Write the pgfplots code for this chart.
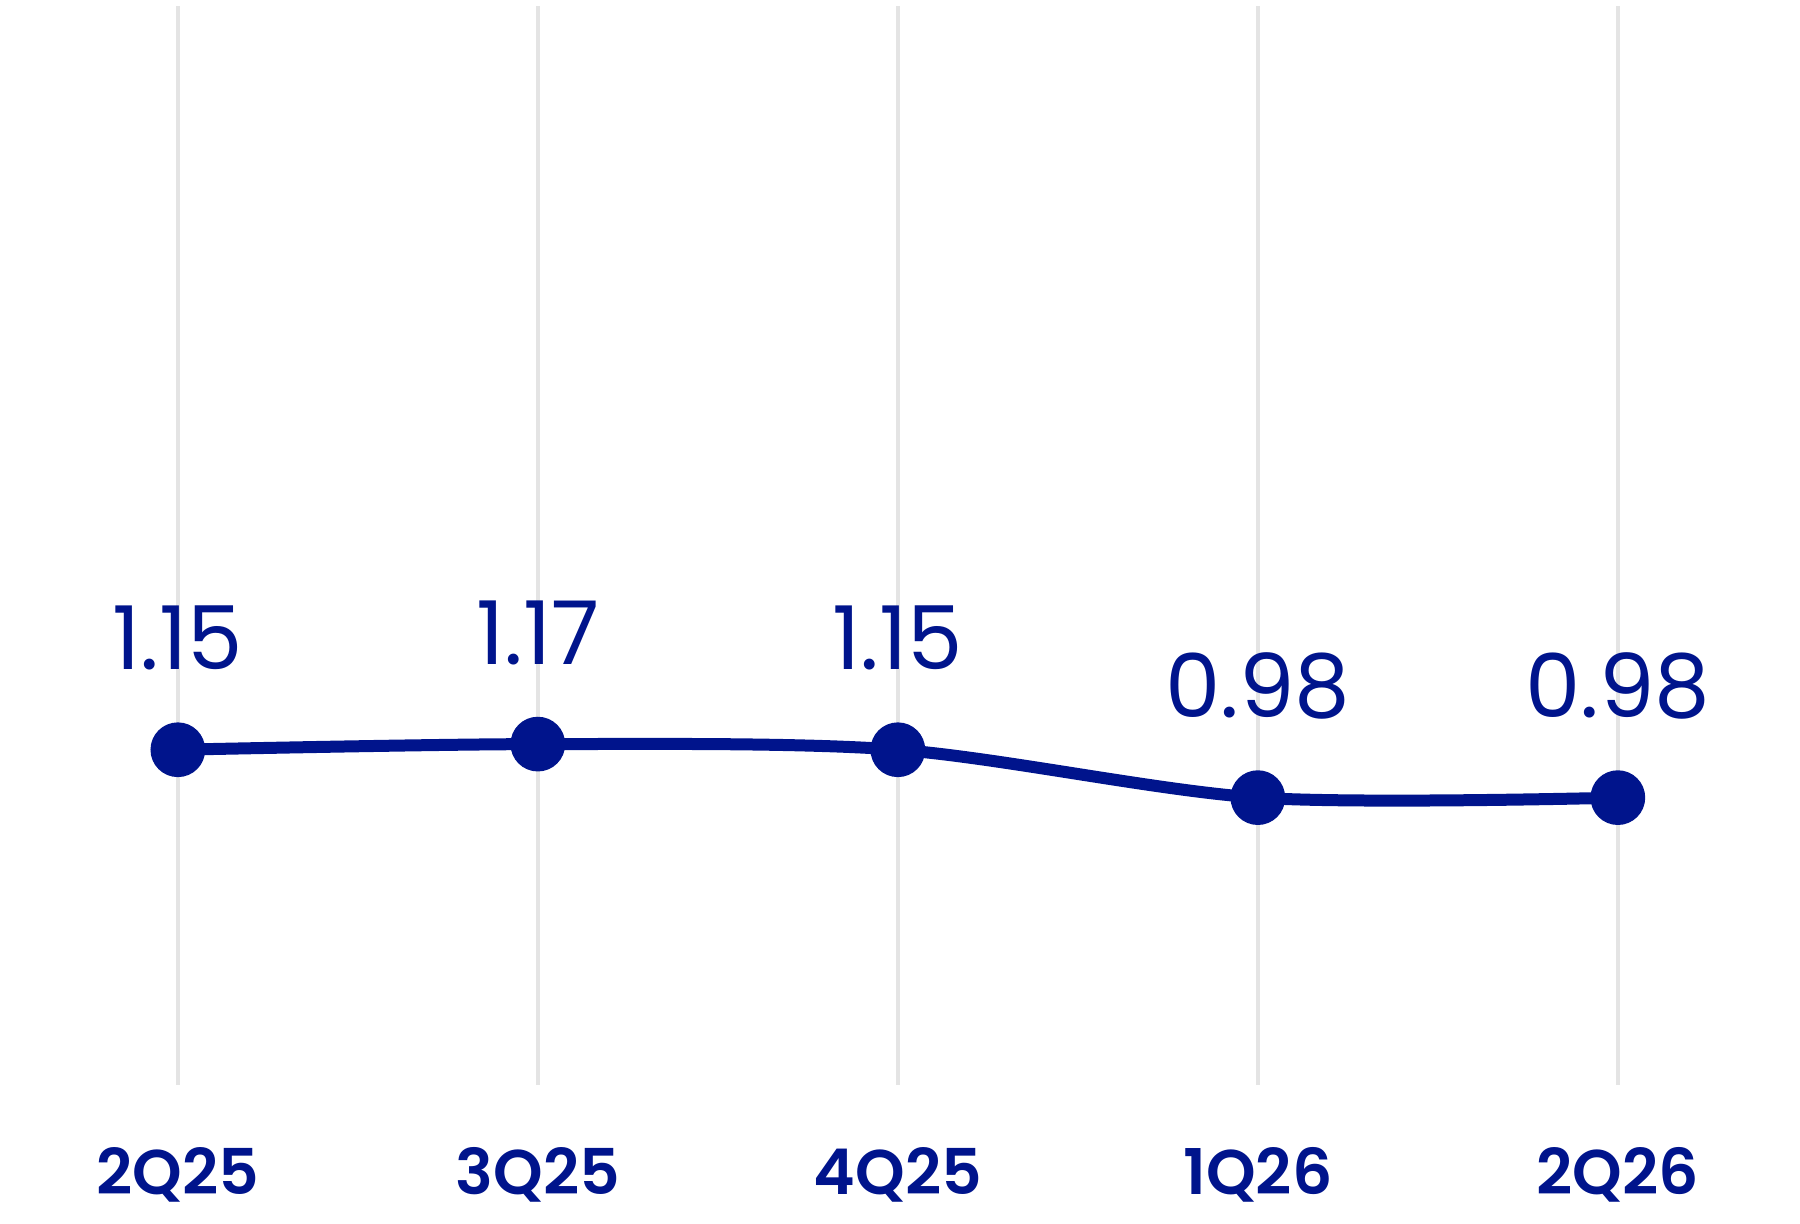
\documentclass[border=0pt]{standalone}
\usepackage{fontspec}
\setmainfont{Poppins}
\newfontfamily\tickfont{Poppins SemiBold}
\usepackage{pgfplots}
\pgfplotsset{compat=1.18}
\definecolor{navy}{HTML}{00148C}
\definecolor{gridgray}{HTML}{E4E4E4}
\begin{document}
\begin{tikzpicture}
\begin{axis}[
    scale only axis,
    width=540bp, height=323.7bp,
    xmin=-0.494, xmax=4.506,
    ymin=-0.04, ymax=3.79,
    axis x line*=bottom, axis y line=none,
    x axis line style={draw=none},
    major tick length=0pt,
    xtick={0,1,2,3,4},
    xticklabels={2Q25,3Q25,4Q25,1Q26,2Q26},
    xticklabel style={anchor=base, yshift=-32.7bp, text=navy,
        font=\fontsize{19}{22}\tickfont},
    ytick=\empty,
    xmajorgrids=true,
    grid style={gridgray, line width=1.2bp},
    clip=false,
    point meta=explicit symbolic,
    nodes near coords,
    every node near coord/.append style={anchor=base, yshift=24bp,
        font=\fontsize{26.5}{30}\selectfont, text=navy},
]
\addplot[navy, line width=3.6bp, smooth, tension=0.5,
    mark=*, mark size=6.4bp, mark options={fill=navy, draw=navy}]
  coordinates {
    (0, 1.15) [1.15]
    (1, 1.17) [1.17]
    (2, 1.15) [1.15]
    (3, 0.98) [0.98]
    (4, 0.98) [0.98]
};
\coordinate (bl) at (rel axis cs:0,0);
\coordinate (tr) at (rel axis cs:1,1);
\end{axis}
\pgfresetboundingbox
\path[use as bounding box] ([yshift=-41.7bp]bl) rectangle ([yshift=1.8bp]tr);
\end{tikzpicture}
\end{document}
